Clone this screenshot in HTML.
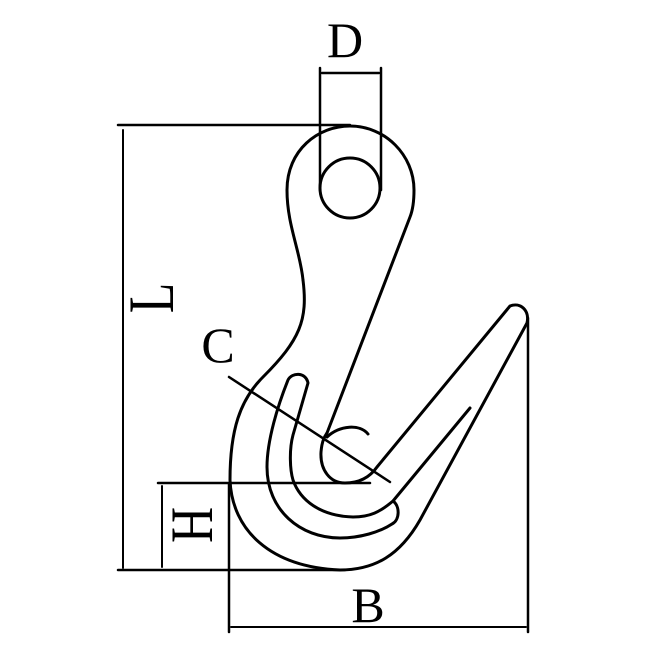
<!DOCTYPE html>
<html><head><style>html,body{margin:0;padding:0;background:#fff}</style></head><body>
<svg width="650" height="650" viewBox="0 0 650 650" xmlns="http://www.w3.org/2000/svg">
<g fill="none" stroke="#000" stroke-width="3" stroke-linecap="round" stroke-linejoin="round">
<path d="M118 125 H350" stroke-width="2.5"/>
<path d="M123 130 V568" stroke-width="2"/>
<path d="M320 68 V190 M381 68 V190" stroke-width="2.5"/>
<path d="M322 73 H379" stroke-width="2.5"/>
<path d="M118 570 H345" stroke-width="2.5"/>
<path d="M158 483 H370" stroke-width="2.5"/>
<path d="M162 486 V567" stroke-width="2"/>
<path d="M229 483 V632" stroke-width="2.5"/>
<path d="M528 318 V632" stroke-width="2.5"/>
<path d="M231 627 H526" stroke-width="2"/>
<path d="M229 377 L390 482" stroke-width="2.5"/>
<circle cx="350" cy="188" r="30"/>
<path d="M303 280 C300 250 287 225 287 190 C287 150 318 126 350 126 C385 126 414 155 414 190 C414 205 412 212 410 217 L327 433"/>
<path d="M303 280 C308 320 300 340 263 377 C240 400 230 430 230 480 C232 530 270 567 340 570 C375 570 400 555 420 520 L527 323 C530 310 520 302 510 306 L377 467 C370 477 360 483 345 483 C330 483 320 470 321 452 C322 440 325 436 327 433"/>
<path d="M327 437 C340 425 360 424 368 434"/>
<path d="M470 408 L393 501 C400 506 400 520 392 524 C380 532 360 538 340 538 C300 538 267 510 267 467 C267 440 278 405 288 380 C292 372 306 372 308 383 L293 435 C289 450 290 470 293 480 C300 500 320 516 353 517 C370 517 380 512 393 501"/>
</g>
<g font-family="'Liberation Serif', serif" fill="#000">
<text x="345" y="57" font-size="50" text-anchor="middle">D</text>
<text x="218" y="362" font-size="50" text-anchor="middle">C</text>
<text x="368" y="622" font-size="50" text-anchor="middle">B</text>
<text transform="translate(173,298) rotate(-90) scale(1,1.3)" font-size="50" text-anchor="middle">L</text>
<text transform="translate(212,525) rotate(-90) scale(1,1.2)" font-size="50" text-anchor="middle">H</text>
</g>
</svg>
</body></html>
